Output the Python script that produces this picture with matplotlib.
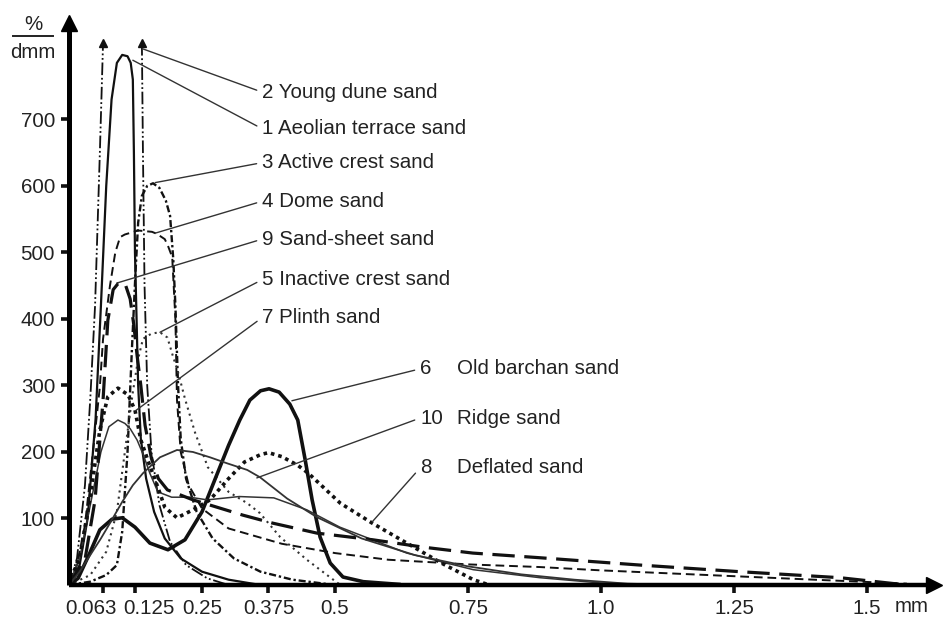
import matplotlib.pyplot as plt
from matplotlib.lines import Line2D
from matplotlib.transforms import ScaledTranslation

plt.rcParams['font.family'] = ['Liberation Sans', 'DejaVu Sans']

# grain size in mm, frequency in %/dmm
# 1 Aeolian terrace sand
terrace_x = [0, 0.02, 0.035, 0.05, 0.06, 0.07, 0.08, 0.09, 0.1, 0.11, 0.116, 0.12, 0.122, 0.124,
             0.127, 0.13, 0.135, 0.145, 0.16, 0.18, 0.21, 0.25, 0.3, 0.36]
terrace_y = [0, 30, 100, 250, 420, 600, 730, 785, 797, 795, 785, 760, 650, 500,
             400, 300, 220, 160, 110, 70, 40, 20, 8, 0]
# 2 Young dune sand (runs off the top of the scale)
young_rise_x = [0, 0.015, 0.03, 0.04, 0.049, 0.058, 0.064]
young_rise_y = [0, 40, 150, 280, 420, 650, 815]
young_fall_x = [0.137, 0.139, 0.142, 0.147, 0.155, 0.17, 0.19, 0.22, 0.26, 0.3]
young_fall_y = [815, 650, 450, 300, 200, 120, 65, 30, 10, 0]
# 3 Active crest sand
active_x = [0, 0.04, 0.07, 0.09, 0.1, 0.11, 0.118, 0.125, 0.13, 0.137, 0.147, 0.158, 0.17, 0.182,
            0.19, 0.196, 0.2, 0.205, 0.21, 0.22, 0.24, 0.27, 0.31, 0.36, 0.42, 0.5]
active_y = [0, 5, 15, 30, 80, 200, 350, 470, 545, 585, 600, 604, 597, 578,
            555, 490, 420, 300, 220, 160, 110, 70, 40, 20, 8, 0]
# 4 Dome sand
dome_x = [0, 0.015, 0.03, 0.045, 0.058, 0.064, 0.077, 0.087, 0.096, 0.105, 0.13, 0.156, 0.165,
          0.18, 0.186, 0.194, 0.2, 0.203, 0.21, 0.225, 0.25, 0.3, 0.4, 0.5, 0.6, 0.75, 0.885,
          1.0, 1.2, 1.4, 1.575]
dome_y = [0, 30, 90, 200, 298, 370, 450, 500, 523, 527, 533, 531, 528,
          520, 510, 493, 400, 278, 200, 150, 115, 85, 62, 48, 38, 31, 27,
          22, 15, 8, 2]
# 5 Inactive crest sand
inactive_x = [0, 0.04, 0.07, 0.09, 0.105, 0.12, 0.13, 0.139, 0.155, 0.171, 0.185, 0.195, 0.205,
              0.218, 0.237, 0.261, 0.3, 0.335, 0.359, 0.397, 0.447, 0.49, 0.51]
inactive_y = [0, 15, 50, 110, 200, 290, 340, 370, 378, 380, 372, 345, 320,
              280, 229, 177, 140, 123, 108, 72, 38, 12, 0]
# 6 Old barchan sand
barchan_x = [0, 0.017, 0.039, 0.058, 0.081, 0.1, 0.124, 0.152, 0.186, 0.218, 0.25, 0.28, 0.3,
             0.321, 0.34, 0.36, 0.376, 0.395, 0.415, 0.43, 0.444, 0.457, 0.472, 0.491, 0.515,
             0.553, 0.62]
barchan_y = [0, 10, 48, 83, 99, 101, 87, 63, 53, 68, 110, 170, 210,
             248, 278, 292, 295, 290, 272, 248, 188, 128, 72, 33, 12,
             5, 1]
# 7 Plinth sand
plinth_x = [0, 0.02, 0.04, 0.06, 0.075, 0.092, 0.105, 0.115, 0.128, 0.14, 0.152, 0.167, 0.193,
            0.227, 0.26, 0.32, 0.385, 0.447, 0.509, 0.635, 0.76, 0.885, 1.0, 1.1]
plinth_y = [0, 40, 120, 200, 238, 248, 243, 235, 218, 195, 168, 140, 132,
            132, 128, 133, 131, 113, 87, 48, 23, 11, 3, 0]
# 8 Deflated sand
deflated_x = [0, 0.021, 0.039, 0.058, 0.073, 0.092, 0.111, 0.124, 0.135, 0.148, 0.167, 0.18, 0.203,
              0.233, 0.265, 0.3, 0.33, 0.36, 0.375, 0.4, 0.43, 0.45, 0.51, 0.57, 0.635, 0.7,
              0.76, 0.79]
deflated_y = [0, 45, 128, 233, 283, 296, 286, 263, 218, 188, 147, 117, 101,
              113, 128, 160, 185, 196, 199, 193, 180, 168, 123, 93, 63, 33,
              8, 0]
# 9 Sand-sheet sand
sheet_x = [0, 0.03, 0.049, 0.064, 0.073, 0.083, 0.092, 0.105, 0.115, 0.122, 0.128, 0.135, 0.143,
           0.155, 0.168, 0.185, 0.233, 0.327, 0.383, 0.466, 0.571, 0.665, 0.759, 0.885, 1.073,
           1.261, 1.449, 1.575]
sheet_y = [0, 38, 128, 278, 398, 444, 453, 454, 430, 390, 345, 300, 240,
           190, 160, 143, 128, 105, 93, 78, 68, 57, 48, 41, 30,
           20, 11, 0]
# 10 Ridge sand
ridge_x = [0, 0.02, 0.04, 0.06, 0.077, 0.1, 0.12, 0.139, 0.171, 0.203, 0.233, 0.265, 0.297, 0.335,
           0.359, 0.41, 0.466, 0.55, 0.65, 0.75, 0.85, 0.95, 1.05, 1.15]
ridge_y = [0, 20, 45, 70, 93, 125, 150, 168, 192, 203, 200, 192, 183, 173,
           162, 130, 102, 70, 45, 28, 16, 8, 2, 0]

x_ticks = [0.063, 0.125, 0.25, 0.375, 0.5, 0.75, 1.0, 1.25, 1.5]
x_ticklabels = ['0.063', '0.125', '0.25', '0.375', '0.5', '0.75', '1.0', '1.25', '1.5']
y_ticks = [100, 200, 300, 400, 500, 600, 700]

upper_labels = ['2 Young dune sand', '1 Aeolian terrace sand', '3 Active crest sand',
                '4 Dome sand', '9 Sand-sheet sand', '5 Inactive crest sand', '7 Plinth sand']
lower_numbers = ['6', '10', '8']
lower_names = ['Old barchan sand', 'Ridge sand', 'Deflated sand']

fig = plt.figure(figsize=(9.44, 6.28), dpi=100)
ax = fig.add_axes([69 / 944, 43 / 628, 873 / 944, 570 / 628])
ax.set_xlim(0, 1.641)
ax.set_ylim(0, 857)

k = '#111111'
ax.plot(terrace_x, terrace_y, color=k, lw=1.6)
ax.plot(young_rise_x, young_rise_y, color=k, lw=1.3, dashes=(7, 1.5, 1, 1.5, 1, 1.5))
ax.plot(young_fall_x, young_fall_y, color=k, lw=1.3, dashes=(7, 1.5, 1, 1.5, 1, 1.5))
ax.plot(active_x, active_y, color=k, lw=1.7, dashes=(3, 1.2, 1, 1.2))
ax.plot(dome_x, dome_y, color=k, lw=1.4, dashes=(4.5, 2.5))
ax.plot(inactive_x, inactive_y, color='#333333', lw=1.5, dashes=(1, 2))
ax.plot(barchan_x, barchan_y, color=k, lw=2.6)
ax.plot(plinth_x, plinth_y, color='#333333', lw=1.1)
ax.plot(deflated_x, deflated_y, color=k, lw=2.6, dashes=(1, 1.1))
ax.plot(sheet_x, sheet_y, color=k, lw=2.3, dashes=(7, 3))
ax.plot(ridge_x, ridge_y, color='#333333', lw=1.3)

# arrow heads where curve 2 leaves the scale
ax.plot([young_rise_x[-1], young_fall_x[0]], [young_rise_y[-1], young_fall_y[0]],
        ls='none', marker='^', ms=6, color=k)

# axes drawn as thick arrows
for s in ax.spines.values():
    s.set_visible(False)
ax.plot([0, 0], [0, 0.986], transform=ax.transAxes, color='k', lw=3.6, clip_on=False,
        solid_capstyle='butt')
ax.plot([0, 0.991], [0, 0], transform=ax.transAxes, color='k', lw=3.2, clip_on=False,
        solid_capstyle='butt')
ax.plot([0], [0.986], transform=ax.transAxes, marker='^', ms=12, color='k', clip_on=False)
ax.plot([0.991], [0], transform=ax.transAxes, marker='>', ms=12, color='k', clip_on=False)

ax.set_xticks(x_ticks)
ax.set_xticklabels(x_ticklabels)
ax.set_yticks(y_ticks)
ax.tick_params(axis='both', direction='out', length=6, width=2.6, labelsize=14.8,
               colors='#111111', labelcolor='#222222')
ax.tick_params(axis='x', pad=4)
ax.tick_params(axis='y', pad=4)
# the first two x labels are pushed apart so they do not collide
for lab, dx in zip(ax.get_xticklabels(), [-8, 9.5]):
    lab.set_transform(lab.get_transform() + ScaledTranslation(dx / 72, 0, fig.dpi_scale_trans))

# unit labels
fig.text(33 / 944, 1 - 25 / 628, '%', ha='center', va='center', fontsize=14.8, color='#222222')
fig.text(33 / 944, 1 - 53 / 628, 'dmm', ha='center', va='center', fontsize=14.8, color='#222222')
fig.add_artist(Line2D([13 / 944, 53 / 944], [1 - 36 / 628, 1 - 36 / 628], color='#222222', lw=1.4))
fig.text(912 / 944, 1 - 607 / 628, 'mm', ha='center', va='center', fontsize=14.8, color='#222222')

# callouts
upper_targets = [(0.139, 806), (0.12, 789), (0.162, 605), (0.162, 529),
                 (0.09, 454), (0.171, 380), (0.125, 262)]
upper_y = [741, 686, 635, 577, 520, 459, 402]
lead = dict(arrowstyle='-', color='#333333', lw=1.0, shrinkA=2, shrinkB=0, relpos=(0, 0.5))
for txt, xy, ty in zip(upper_labels, upper_targets, upper_y):
    ax.annotate(txt, xy=xy, xytext=(0.363, ty), fontsize=14.8, color='#222222',
                ha='left', va='center', arrowprops=lead)

lower_targets = [(0.419, 277), (0.353, 161), (0.57, 95)]
lower_y = [325, 251, 176]
for num, name, xy, ty in zip(lower_numbers, lower_names, lower_targets, lower_y):
    ax.annotate(num, xy=xy, xytext=(0.66, ty), fontsize=14.8, color='#222222',
                ha='left', va='center', arrowprops=lead)
    ax.text(0.729, ty, name, fontsize=14.8, color='#222222', ha='left', va='center')

fig.savefig('out.png', dpi=100)
